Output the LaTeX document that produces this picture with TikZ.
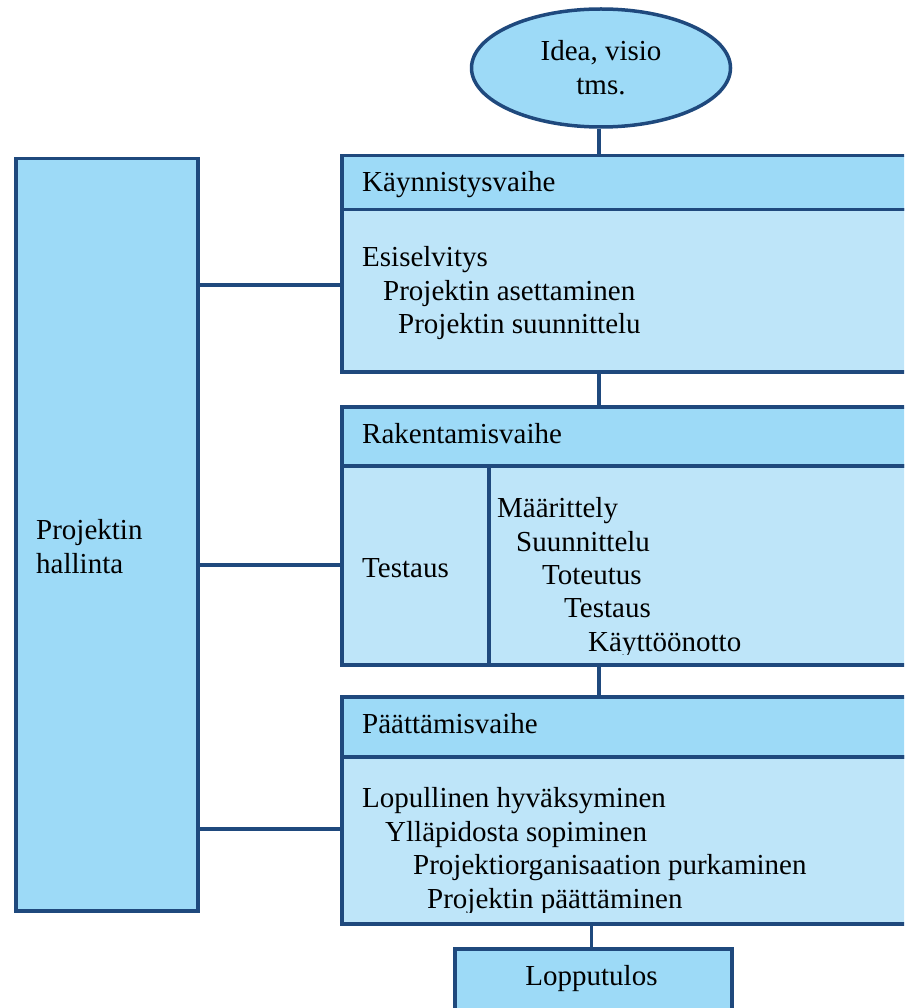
\documentclass[tikz,border=0pt]{standalone}
\usepackage{fontspec}
\setmainfont{Liberation Serif}
\usetikzlibrary{shapes.geometric}
\definecolor{headfill}{RGB}{157,218,247}
\definecolor{bodyfill}{RGB}{190,229,249}
\definecolor{edge}{RGB}{31,73,125}
\tikzset{
  txt/.style={font=\fontsize{29}{34}\selectfont, inner sep=0pt, anchor=base west},
  headbox/.style={draw=edge, fill=headfill, line width=3.5pt, rectangle, anchor=north west, inner sep=0pt},
  bodybox/.style={draw=edge, fill=bodyfill, line width=3.5pt, rectangle, anchor=north west, inner sep=0pt},
  conn/.style={draw=edge, line width=3.5pt},
}
\begin{document}
\begin{tikzpicture}[x=1pt,y=-1pt]
\useasboundingbox (0,0) rectangle (904,1008);
\clip (0,0) rectangle (904,1008);

% start ellipse
\node[ellipse, draw=edge, fill=headfill, line width=3.5pt, minimum width=259pt, minimum height=118pt, inner sep=0pt,
      align=center, font=\fontsize{29}{34}\selectfont] (idea) at (601,68) {Idea, visio\\tms.};

% project management box
\node[headbox, minimum width=182pt, minimum height=752pt] (hall) at (14,157) {};
\node[txt] (hall1) at (36,539) {Projektin};
\node[txt] (hall2) at (36,573) {hallinta};

% phase 1
\node[headbox, minimum width=600pt, minimum height=54pt] (kh) at (340,154) {};
\node[bodybox, minimum width=600pt, minimum height=162pt] (kb) at (340,208) {};
\node[txt] (kt) at (362,192) {Käynnistysvaihe};
\node[txt] (k1) at (362,266) {Esiselvitys};
\node[txt] (k2) at (383,300) {Projektin asettaminen};
\node[txt] (k3) at (398,333) {Projektin suunnittelu};

% phase 2
\node[headbox, minimum width=600pt, minimum height=59pt] (rh) at (340,405) {};
\node[bodybox, minimum width=147pt, minimum height=199pt] (rl) at (340,464) {};
\node[bodybox, minimum width=500pt, minimum height=199pt] (rr) at (487,464) {};
\node[txt] (rt) at (362,443) {Rakentamisvaihe};
\node[txt] (rtest) at (362,577) {Testaus};
\node[txt] (r1) at (497,517) {Määrittely};
\node[txt] (r2) at (516,551) {Suunnittelu};
\node[txt] (r3) at (542,584) {Toteutus};
\node[txt] (r4) at (564,617) {Testaus};
\begin{scope}
  \clip (490,600) rectangle (904,654);
  \node[txt] (r5) at (588,651) {Käyttöönotto};
\end{scope}

% phase 3
\node[headbox, minimum width=600pt, minimum height=60pt] (ph) at (340,695) {};
\node[bodybox, minimum width=600pt, minimum height=167pt] (pb) at (340,755) {};
\node[txt] (pt) at (362,733) {Päättämisvaihe};
\node[txt] (p1) at (362,807) {Lopullinen hyväksyminen};
\node[txt] (p2) at (385,841) {Ylläpidosta sopiminen};
\node[txt] (p3) at (413,874) {Projektiorganisaation purkaminen};
\begin{scope}
  \clip (400,880) rectangle (904,912);
  \node[txt] (p4) at (427,908) {Projektin päättäminen};
\end{scope}

% result
\node[headbox, minimum width=277pt, minimum height=100pt] (lop) at (453,947) {};
\node[txt, anchor=base] (lopt) at (591.5,985) {Lopputulos};

% connectors
\coordinate (spine) at (599,0);
\coordinate (c1) at (268,285);
\coordinate (c2) at (268,565);
\coordinate (c3) at (268,829);
\draw[conn] (idea.south -| spine) -- (kh.north -| spine);
\draw[conn] (kb.south -| spine) -- (rh.north -| spine);
\draw[conn] (rr.south -| spine) -- (ph.north -| spine);
\draw[conn] (pb.south -| lopt) -- (lop.north -| lopt);
\draw[conn] (hall.east |- c1) -- (kb.west |- c1);
\draw[conn] (hall.east |- c2) -- (rl.west |- c2);
\draw[conn] (hall.east |- c3) -- (pb.west |- c3);
\end{tikzpicture}
\end{document}
